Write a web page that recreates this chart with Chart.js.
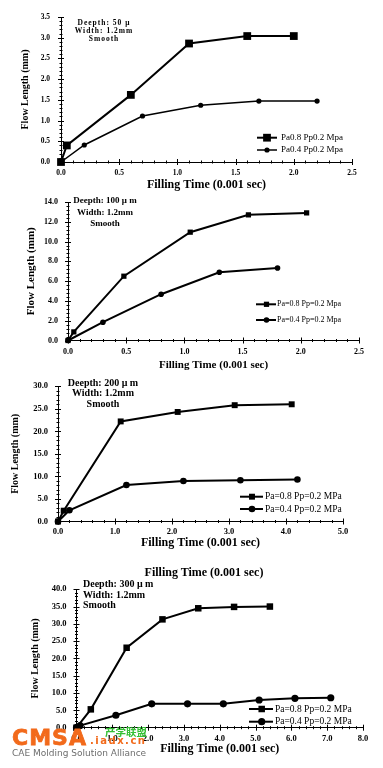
<!DOCTYPE html>
<html><head><meta charset="utf-8">
<script src="https://cdn.jsdelivr.net/npm/chart.js@4"></script>
<style>
html,body{margin:0;padding:0;background:#fff;}
#wrap{position:relative;width:383px;height:768px;overflow:hidden;background:#fff;}
canvas{position:absolute;left:0;}
.t{position:absolute;white-space:nowrap;line-height:1;}
#dup{left:104px;width:200px;top:564.5px;text-align:center;font:bold 12px 'Liberation Serif',serif;color:#000;}
#wm1{left:12px;top:724.5px;font:bold 22px 'DejaVu Sans',sans-serif;color:#f26a1b;letter-spacing:1px;-webkit-text-stroke:0.8px #f26a1b;}
#wm2{left:90px;top:734.5px;font:bold 10px 'DejaVu Sans',sans-serif;color:#f26a1b;letter-spacing:1.5px;}
#wm3{left:105px;top:723.5px;font:bold 10.5px 'Noto Sans CJK SC',sans-serif;color:#35c035;}
#wm4{left:12px;top:748px;font:9px 'DejaVu Sans',sans-serif;color:#6e6e6e;}
</style></head><body>
<div id="wrap">
<canvas id="c1" width="383" height="192" style="top:0px"></canvas>
<canvas id="c2" width="383" height="185" style="top:188px"></canvas>
<canvas id="c3" width="383" height="179" style="top:372px"></canvas>
<canvas id="c4" width="383" height="193" style="top:575px"></canvas>
<div class="t" id="dup">Filling Time (0.001 sec)</div>
<div class="t" id="wm1">CMSA</div>
<div class="t" id="wm2">.iadx.cn</div>
<div class="t" id="wm3">产学联盟</div>
<div class="t" id="wm4">CAE Molding Solution Alliance</div>
</div>
<script>
// ---------- data ----------
const xTitle = 'Filling Time (0.001 sec)';
const yTitle = 'Flow Length (mm)';

// Chart 1 : Deepth 50 μ
const c1TimeA = [0, 0.05, 0.6, 1.1, 1.6, 2.0];
const c1LenA  = [0, 0.40, 1.62, 2.86, 3.04, 3.04];
const c1TimeB = [0, 0.2, 0.7, 1.2, 1.7, 2.2];
const c1LenB  = [0, 0.41, 1.11, 1.37, 1.47, 1.47];
const c1XTicks = [0, 0.5, 1.0, 1.5, 2.0, 2.5];
const c1YTicks = [0, 0.5, 1.0, 1.5, 2.0, 2.5, 3.0, 3.5];
const c1Labels = ['Pa0.8 Pp0.2 Mpa', 'Pa0.4 Pp0.2 Mpa'];
const c1Note = ['Deepth: 50 μ', 'Width: 1.2mm', 'Smooth'];

// Chart 2 : Deepth 100 μm
const c2TimeA = [0, 0.05, 0.48, 1.05, 1.55, 2.05];
const c2LenA  = [0, 0.87, 6.5, 10.95, 12.7, 12.9];
const c2TimeB = [0, 0.3, 0.8, 1.3, 1.8];
const c2LenB  = [0, 1.85, 4.68, 6.9, 7.33];
const c2XTicks = [0, 0.5, 1.0, 1.5, 2.0, 2.5];
const c2YTicks = [0, 2, 4, 6, 8, 10, 12, 14];
const c2Labels = ['Pa=0.8 Pp=0.2 Mpa', 'Pa=0.4 Pp=0.2 Mpa'];
const c2Note = ['Deepth: 100 μ m', 'Width: 1.2mm', 'Smooth'];

// Chart 3 : Deepth 200 μm
const c3TimeA = [0, 0.1, 1.1, 2.1, 3.1, 4.1];
const c3LenA  = [0, 2.4, 22.2, 24.3, 25.8, 26.0];
const c3TimeB = [0, 0.2, 1.2, 2.2, 3.2, 4.2];
const c3LenB  = [0, 2.5, 8.1, 9.0, 9.15, 9.3];
const c3XTicks = [0, 1, 2, 3, 4, 5];
const c3YTicks = [0, 5, 10, 15, 20, 25, 30];
const c3Labels = ['Pa=0.8 Pp=0.2 MPa', 'Pa=0.4 Pp=0.2 MPa'];
const c3Note = ['Deepth: 200 μ m', 'Width: 1.2mm', 'Smooth'];

// Chart 4 : Deepth 300 μm
const c4TimeA = [0, 0.4, 1.4, 2.4, 3.4, 4.4, 5.4];
const c4LenA  = [0, 5.3, 23.1, 31.3, 34.5, 34.9, 35.0];
const c4TimeB = [0, 0.1, 1.1, 2.1, 3.1, 4.1, 5.1, 6.1, 7.1];
const c4LenB  = [0, 0.6, 3.6, 6.9, 6.9, 6.9, 8.0, 8.5, 8.65];
const c4XTicks = [0, 1, 2, 3, 4, 5, 6, 7, 8];
const c4YTicks = [0, 5, 10, 15, 20, 25, 30, 35, 40];
const c4Labels = ['Pa=0.8 Pp=0.2 MPa', 'Pa=0.4 Pp=0.2 MPa'];
const c4Note = ['Deepth: 300 μ m', 'Width: 1.2mm', 'Smooth'];

// ---------- rendering ----------
const SERIF = "'Liberation Serif','Times New Roman',serif";
const pts = (xs, ys) => xs.map((x, i) => ({x: x, y: ys[i]}));

const decor = {
  id: 'decor',
  afterDraw(chart, args, o) {
    const ctx = chart.ctx, xs = chart.scales.x, ys = chart.scales.y, ca = chart.chartArea;
    ctx.save();
    ctx.strokeStyle = '#000'; ctx.fillStyle = '#000'; ctx.lineWidth = 1;
    ctx.beginPath();
    const steps = (min, max, minor, major, fn) => {
      const n = Math.round((max - min) / minor);
      for (let i = 0; i <= n; i++) {
        const v = min + i * minor;
        const r = v / major;
        fn(v, Math.abs(r - Math.round(r)) < 1e-6);
      }
    };
    steps(xs.min, xs.max, o.xMinor, o.xMajor, (v, maj) => {
      const p = Math.round(xs.getPixelForValue(v)) + 0.5;
      const l = maj ? 3 : 1.5;
      ctx.moveTo(p, ca.bottom - l); ctx.lineTo(p, ca.bottom + l);
    });
    steps(ys.min, ys.max, o.yMinor, o.yMajor, (v, maj) => {
      const p = Math.round(ys.getPixelForValue(v)) + 0.5;
      const l = maj ? 3 : 1.5;
      ctx.moveTo(ca.left - l, p); ctx.lineTo(ca.left + l, p);
    });
    ctx.stroke();
    // legend
    const lg = o.legend;
    ctx.font = lg.font + 'px ' + SERIF;
    ctx.textBaseline = 'middle'; ctx.textAlign = 'left';
    chart.data.datasets.forEach((ds, i) => {
      const y = lg.y[i];
      ctx.lineWidth = ds.borderWidth;
      ctx.beginPath(); ctx.moveTo(lg.x0, y); ctx.lineTo(lg.x1, y); ctx.stroke();
      const r = ds.pointRadius, mx = lg.xm;
      ctx.beginPath();
      if (ds.pointStyle === 'rect') {
        const s = Math.SQRT1_2 * r;
        ctx.rect(mx - s, y - s, 2 * s, 2 * s);
      } else {
        ctx.arc(mx, y, r, 0, Math.PI * 2);
      }
      ctx.fill();
      ctx.fillText(ds.label, lg.tx, y);
    });
    // note
    const nt = o.note;
    ctx.font = 'bold ' + nt.font + 'px ' + SERIF;
    ctx.textAlign = nt.align;
    if (nt.spacing) ctx.letterSpacing = nt.spacing;
    nt.lines.forEach((t, i) => ctx.fillText(t, nt.x, nt.y[i]));
    ctx.restore();
  }
};

function makeChart(id, c) {
  new Chart(document.getElementById(id), {
    type: 'line',
    data: {
      datasets: [
        {label: c.labels[0], data: pts(c.xa, c.ya), borderColor: '#000', backgroundColor: '#000',
         borderWidth: c.lwA, pointStyle: 'rect', pointRadius: c.rA, pointBorderWidth: 0,
         pointBackgroundColor: '#000', clip: false, tension: 0},
        {label: c.labels[1], data: pts(c.xb, c.yb), borderColor: '#000', backgroundColor: '#000',
         borderWidth: c.lwB, pointStyle: 'circle', pointRadius: c.rB, pointBorderWidth: 0,
         pointBackgroundColor: '#000', clip: false, tension: 0}
      ]
    },
    options: {
      responsive: false, animation: false, devicePixelRatio: 1,
      layout: {padding: {left: 0, top: c.top, right: 383 - c.right, bottom: 0}},
      plugins: {legend: {display: false}, tooltip: {enabled: false},
        decor: {xMinor: c.xMinor, xMajor: c.xTicks[1], yMinor: c.yMinor, yMajor: c.yTicks[1],
                legend: c.legend, note: c.note}},
      scales: {
        x: {type: 'linear', min: c.xTicks[0], max: c.xTicks[c.xTicks.length - 1],
            afterBuildTicks: s => { s.ticks = c.xTicks.map(v => ({value: v})); },
            afterFit: s => { s.height = c.xH; },
            grid: {display: false, drawTicks: false},
            border: {display: true, color: '#000', width: 1},
            ticks: {padding: c.xPad, color: '#000', autoSkip: false, maxRotation: 0,
                    font: {family: SERIF, size: c.tickFont, weight: 'bold', lineHeight: 1},
                    callback: v => Number(v).toFixed(1)},
            title: {display: true, text: xTitle, color: '#000',
                    font: {family: SERIF, size: c.xtFont, weight: 'bold', lineHeight: 1.2},
                    padding: {top: 0, bottom: c.xtPad}}},
        y: {type: 'linear', min: c.yTicks[0], max: c.yTicks[c.yTicks.length - 1],
            afterBuildTicks: s => { s.ticks = c.yTicks.map(v => ({value: v})); },
            afterFit: s => { s.width = c.left; },
            grid: {display: false, drawTicks: false},
            border: {display: true, color: '#000', width: 1},
            ticks: {padding: c.yPad, color: '#000',
                    font: {family: SERIF, size: c.tickFont, weight: 'bold', lineHeight: 1},
                    callback: v => Number(v).toFixed(1)},
            title: {display: true, text: yTitle, color: '#000',
                    font: {family: SERIF, size: c.ytFont, weight: 'bold', lineHeight: 1.2},
                    padding: {top: c.ytPad, bottom: 0}}}
      }
    },
    plugins: [decor]
  });
}

makeChart('c1', {xa: c1TimeA, ya: c1LenA, xb: c1TimeB, yb: c1LenB, labels: c1Labels,
  xTicks: c1XTicks, yTicks: c1YTicks, xMinor: 0.1, yMinor: 0.1,
  left: 61, right: 352, top: 17, xH: 30, xPad: 7, yPad: 11, tickFont: 7.5,
  xtFont: 12, xtPad: 0, ytFont: 10, ytPad: 19,
  lwA: 2, lwB: 1.5, rA: 5.5, rB: 2.6,
  legend: {x0: 257, x1: 277, xm: 267, tx: 281, y: [137.7, 150], font: 9},
  note: {lines: c1Note, x: 104, y: [23, 31, 39], font: 7.5, align: 'center', spacing: '1px'}});

makeChart('c2', {xa: c2TimeA, ya: c2LenA, xb: c2TimeB, yb: c2LenB, labels: c2Labels,
  xTicks: c2XTicks, yTicks: c2YTicks, xMinor: 0.1, yMinor: 0.4,
  left: 68, right: 359, top: 10, xH: 32.5, xPad: 7, yPad: 10, tickFont: 8,
  xtFont: 11, xtPad: 1.4, ytFont: 11, ytPad: 25,
  lwA: 2, lwB: 2, rA: 3.7, rB: 2.8,
  legend: {x0: 256, x1: 276, xm: 266.5, tx: 277, y: [116.3, 132], font: 8},
  note: {lines: c2Note, x: 105, y: [12.7, 24.3, 35.3], font: 9, align: 'center'}});

makeChart('c3', {xa: c3TimeA, ya: c3LenA, xb: c3TimeB, yb: c3LenB, labels: c3Labels,
  xTicks: c3XTicks, yTicks: c3YTicks, xMinor: 0.2, yMinor: 1,
  left: 58, right: 343, top: 4.5, xH: 29.5, xPad: 6.5, yPad: 10, tickFont: 8.5,
  xtFont: 12, xtPad: 0.4, ytFont: 10, ytPad: 9,
  lwA: 2, lwB: 2, rA: 4.2, rB: 3.3,
  legend: {x0: 240, x1: 263, xm: 252, tx: 265, y: [124.7, 137], font: 9.5},
  note: {lines: c3Note, x: 103, y: [11.3, 21.8, 32], font: 10, align: 'center'}});

makeChart('c4', {xa: c4TimeA, ya: c4LenA, xb: c4TimeB, yb: c4LenB, labels: c4Labels,
  xTicks: c4XTicks, yTicks: c4YTicks, xMinor: 0.2, yMinor: 1,
  left: 76.5, right: 363, top: 5, xH: 40.3, xPad: 6.5, yPad: 10, tickFont: 8.5,
  xtFont: 12, xtPad: 11.4, ytFont: 10, ytPad: 29,
  lwA: 2, lwB: 2, rA: 4.6, rB: 3.6,
  legend: {x0: 249, x1: 273, xm: 261.7, tx: 275, y: [134, 146.7], font: 9.5},
  note: {lines: c4Note, x: 83, y: [9, 20, 30], font: 10, align: 'left'}});
</script>
</body></html>
